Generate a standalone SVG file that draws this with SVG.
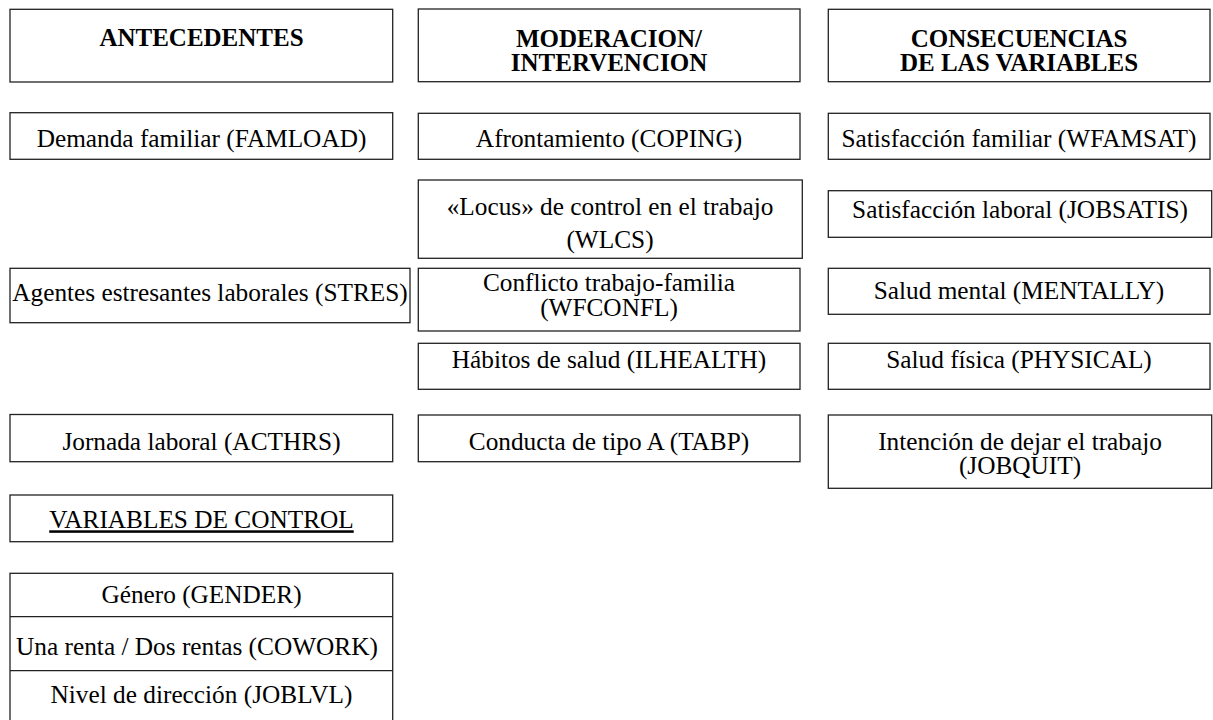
<svg xmlns="http://www.w3.org/2000/svg" width="1213" height="720" viewBox="0 0 1213 720">
<style>
.b{fill:#fff;stroke:#222;stroke-width:1.3}
.t{font-family:"Liberation Serif","Times New Roman",serif;font-size:25.3px;fill:#000;text-anchor:middle}
.h{font-family:"Liberation Serif","Times New Roman",serif;font-size:25px;font-weight:bold;fill:#000;text-anchor:middle}
</style>
<rect width="1213" height="720" fill="#fff"/>
<g id="connectors"></g>
<g id="h-antecedentes"><rect class="b" x="10" y="9.3" width="382.7" height="72.7"/><text class="h" x="201.5" y="46">ANTECEDENTES</text></g>
<g id="h-moderacion"><rect class="b" x="418.3" y="9" width="381.7" height="72.7"/><text class="h" x="609" y="47">MODERACION/</text><text class="h" x="609" y="71">INTERVENCION</text></g>
<g id="h-consecuencias"><rect class="b" x="828.3" y="9.3" width="381.7" height="72.4"/><text class="h" x="1019" y="47">CONSECUENCIAS</text><text class="h" x="1019" y="71">DE LAS VARIABLES</text></g>

<g id="famload"><rect class="b" x="10" y="112.7" width="382.7" height="46.6"/><text class="t" x="201.5" y="146.5">Demanda familiar (FAMLOAD)</text></g>
<g id="stres"><rect class="b" x="10" y="268.3" width="400" height="54.4"/><text class="t" x="210" y="301">Agentes estresantes laborales (STRES)</text></g>
<g id="acthrs"><rect class="b" x="10" y="414.5" width="382.7" height="47.2"/><text class="t" x="201.5" y="450">Jornada laboral (ACTHRS)</text></g>
<g id="control"><rect class="b" x="10" y="495" width="382.7" height="46.7"/><text class="t" x="201.5" y="528.3" text-decoration="underline">VARIABLES DE CONTROL</text></g>
<g id="control-vars"><rect class="b" x="10" y="573.3" width="382.7" height="150"/>
<line x1="10" y1="616.7" x2="392.7" y2="616.7" stroke="#222" stroke-width="1.3"/>
<line x1="10" y1="670.7" x2="392.7" y2="670.7" stroke="#222" stroke-width="1.3"/>
<text class="t" x="201.5" y="603.3">Género (GENDER)</text>
<text class="t" x="197" y="655">Una renta / Dos rentas (COWORK)</text>
<text class="t" x="201.5" y="703.3">Nivel de dirección (JOBLVL)</text></g>

<g id="coping"><rect class="b" x="418.3" y="113.3" width="381.7" height="46"/><text class="t" x="609" y="146.5">Afrontamiento (COPING)</text></g>
<g id="wlcs"><rect class="b" x="418.3" y="180" width="384" height="78.3"/><text class="t" x="610" y="215">«Locus» de control en el trabajo</text><text class="t" x="610" y="248">(WLCS)</text></g>
<g id="wfconfl"><rect class="b" x="418.3" y="268.3" width="381.7" height="62.7"/><text class="t" x="609" y="291">Conflicto trabajo-familia</text><text class="t" x="609" y="316">(WFCONFL)</text></g>
<g id="ilhealth"><rect class="b" x="418.3" y="343.3" width="381.7" height="46"/><text class="t" x="609" y="368">Hábitos de salud (ILHEALTH)</text></g>
<g id="tabp"><rect class="b" x="418.3" y="415" width="381.7" height="46.7"/><text class="t" x="609" y="450">Conducta de tipo A (TABP)</text></g>

<g id="wfamsat"><rect class="b" x="828.3" y="113.3" width="381.7" height="46"/><text class="t" x="1019" y="146.5">Satisfacción familiar (WFAMSAT)</text></g>
<g id="jobsatis"><rect class="b" x="828.3" y="190.7" width="383.4" height="46.6"/><text class="t" x="1020" y="218">Satisfacción laboral (JOBSATIS)</text></g>
<g id="mentally"><rect class="b" x="828.3" y="268.3" width="381.7" height="46"/><text class="t" x="1019" y="299">Salud mental (MENTALLY)</text></g>
<g id="physical"><rect class="b" x="828.3" y="343.3" width="381.7" height="46"/><text class="t" x="1019" y="368">Salud física (PHYSICAL)</text></g>
<g id="jobquit"><rect class="b" x="828.3" y="415" width="383.4" height="73.3"/><text class="t" x="1020" y="450">Intención de dejar el trabajo</text><text class="t" x="1020" y="474">(JOBQUIT)</text></g>
</svg>
